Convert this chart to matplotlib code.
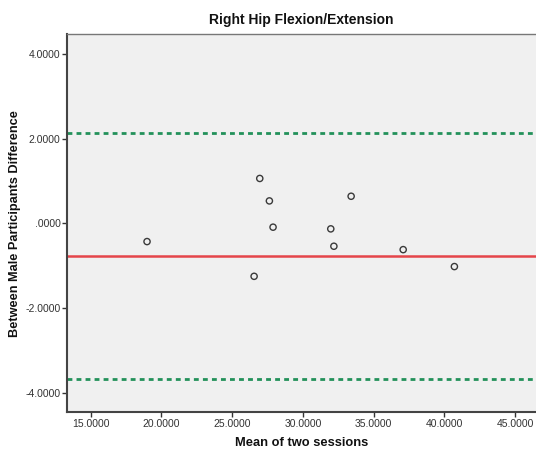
import matplotlib
matplotlib.use("Agg")
import matplotlib.pyplot as plt
from matplotlib.ticker import FuncFormatter

plt.rcParams['font.family'] = ['Liberation Sans', 'DejaVu Sans']

mean_sessions = [18.98, 26.95, 27.63, 27.89, 26.55, 33.41, 31.97, 32.19, 37.09, 40.71]
difference = [-0.43, 1.06, 0.53, -0.09, -1.25, 0.64, -0.13, -0.54, -0.62, -1.02]
mean_diff = -0.77
upper_loa = 2.14
lower_loa = -3.68
x_ticks = [15, 20, 25, 30, 35, 40, 45]
y_ticks = [-4, -2, 0, 2, 4]

fig = plt.figure(figsize=(5.36, 4.55), dpi=100)
ax = fig.add_axes([66.7/536, (455-412.3)/455, 1 - 66.7/536, (412.3-34)/455])
ax.set_facecolor('#f0f0f0')

ax.axhline(upper_loa, color='#23915a', lw=2.0, ls=(0, (1.75, 1.5)), zorder=2)
ax.axhline(lower_loa, color='#23915a', lw=2.0, ls=(0, (1.75, 1.5)), zorder=2)
ax.axhline(mean_diff, color='#e5454a', lw=1.8, zorder=2)
ax.scatter(mean_sessions, difference, s=20, facecolors='none', edgecolors='#3a3a3a', linewidths=1.0, zorder=3)

ax.set_xlim(13.3, 46.48)
ax.set_ylim(-4.46, 4.47)
ax.set_xticks(x_ticks)
ax.set_yticks(y_ticks)

def fmt(v, pos):
    s = f"{v:.4f}"
    if s.startswith("0."):
        s = s[1:]
    if s == "-0.0000":
        s = ".0000"
    return s

ax.xaxis.set_major_formatter(FuncFormatter(fmt))
ax.yaxis.set_major_formatter(FuncFormatter(fmt))
ax.tick_params(axis='both', direction='out', length=3.5, width=1, color='#333333',
               labelsize=7.5, labelcolor='#333333', pad=1)

for side in ['left', 'bottom']:
    ax.spines[side].set_color('#444444')
    ax.spines[side].set_linewidth(1.5)
ax.spines['top'].set_color('#777777')
ax.spines['top'].set_linewidth(1.0)
ax.spines['right'].set_visible(False)

ax.set_title('Right Hip Flexion/Extension', fontsize=10, fontweight='bold', color='#111111', pad=7)
ax.set_xlabel('Mean of two sessions', fontsize=9.3, fontweight='bold', color='#111111', labelpad=6)
ax.set_ylabel('Between Male Participants Difference', fontsize=9.2, fontweight='bold', color='#111111', labelpad=3)

fig.savefig('out.png', dpi=100)
